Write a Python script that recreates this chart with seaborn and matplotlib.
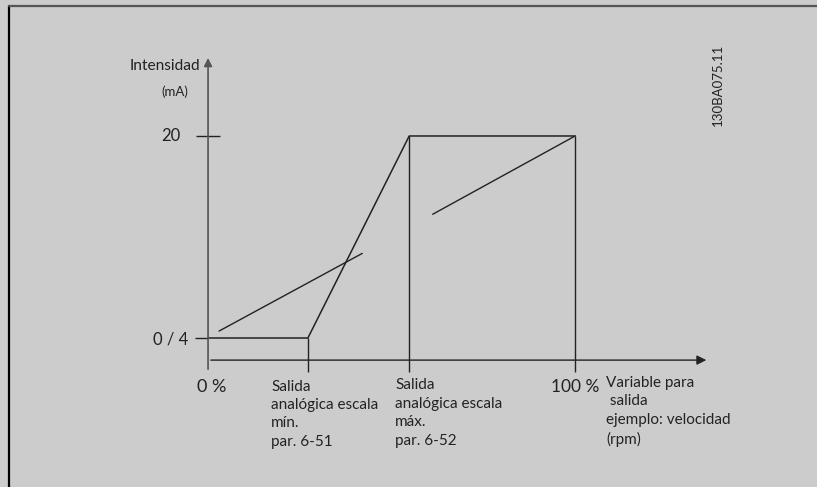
'''
Salida analógica: intensidad (mA) frente a variable de salida (%)
'''
# %% Imports
import pandas as pd
import seaborn as sns
import matplotlib.pyplot as plt

sns.set_theme(style="white")
plt.rcParams['font.family'] = ['Lato', 'DejaVu Sans']

# %% Data
# x in % of output variable, y in mA
pct_min = 27.2      # par. 6-51
pct_max = 54.8      # par. 6-52
out_x = [0, pct_min, pct_max, 100]
out_y = [4, 4, 20, 20]

# sloped reference lines of the variable
ref_low_x = [3.0, 42.0]
ref_low_y = [4.55, 10.7]
ref_high_x = [61.2, 100]
ref_high_y = [13.8, 20]

ytick_vals = [4, 20]
ytick_labels = ["0 / 4", "20"]
xtick_vals = [0, pct_min, pct_max, 100]
xtick_labels = [
    "0 %",
    "Salida\nanalógica escala\nmín.\npar. 6-51",
    "Salida\nanalógica escala\nmáx.\npar. 6-52",
    "100 %",
]
x_title = "Variable para\n salida\nejemplo: velocidad\n(rpm)"
y_title = "Intensidad"
y_unit = "(mA)"
fig_code = "130BA075.11"

df_out = pd.DataFrame({'pct': out_x, 'mA': out_y})
df_low = pd.DataFrame({'pct': ref_low_x, 'mA': ref_low_y})
df_high = pd.DataFrame({'pct': ref_high_x, 'mA': ref_high_y})

# %% Figure
bg = '#cccccc'
ink = '#222222'
fig = plt.figure(figsize=(8.17, 4.87), dpi=100, facecolor=bg)
ax = fig.add_axes([0, 0, 1, 1], facecolor=bg)
ax.set_xlim(-56.68, 165.9)
ax.set_ylim(-7.80, 30.77)
ax.axis('off')

# frame (left and top edges only visible)
ax.plot([0.0116, 0.0116], [0, 0.9867], color='black', lw=1.6, transform=ax.transAxes)
ax.plot([0.0116, 1], [0.9867, 0.9867], color='#555555', lw=1.6, transform=ax.transAxes)

# axes with arrows
y_axis_pos = 2.25
tick_bottom = 1.31
ax.annotate('', xy=(136.5, y_axis_pos), xytext=(0, y_axis_pos),
            arrowprops=dict(arrowstyle='-|>', color=ink, lw=1.0, mutation_scale=14))
ax.annotate('', xy=(0, 26.4), xytext=(0, tick_bottom),
            arrowprops=dict(arrowstyle='-|>', color='#555555', lw=1.2, mutation_scale=12))

# output curve
sns.lineplot(data=df_out, x='pct', y='mA', sort=False, color=ink, lw=1.1, ax=ax)
sns.lineplot(data=df_low, x='pct', y='mA', sort=False, color=ink, lw=1.0, ax=ax)
sns.lineplot(data=df_high, x='pct', y='mA', sort=False, color=ink, lw=1.0, ax=ax)

# verticals down through the x axis
ax.vlines(xtick_vals[1:], tick_bottom, [out_y[1], out_y[2], out_y[3]], color=ink, lw=1.0)

# y ticks
ax.hlines(ytick_vals, [-3.5, -3.3], [0, 3.3], color=ink, lw=1.0)

# y tick labels
ax.text(-5.45, ytick_vals[0] - 0.15, ytick_labels[0], ha='right', va='center', fontsize=12, color=ink)
ax.text(-7.6, ytick_vals[1], ytick_labels[1], ha='right', va='center', fontsize=12, color=ink)

# x tick labels
ax.text(1.1, 0.12, xtick_labels[0], ha='center', va='center', fontsize=13, color=ink)
ax.text(17.2, 0.7, xtick_labels[1], ha='left', va='top', fontsize=11, color=ink, linespacing=1.4)
ax.text(50.95, 0.8, xtick_labels[2], ha='left', va='top', fontsize=11, color=ink, linespacing=1.4)
ax.text(100, 0.12, xtick_labels[3], ha='center', va='center', fontsize=12.5, color=ink)

# axis titles
ax.text(108.4, 1.0, x_title, ha='left', va='top', fontsize=11, color=ink, linespacing=1.4)
ax.text(-2.0, 25.54, y_title, ha='right', va='center', fontsize=11.2, color=ink)
ax.text(-9.0, 23.49, y_unit, ha='center', va='center', fontsize=9.5, color=ink)

# drawing code
ax.text(139, 24.04, fig_code, ha='center', va='center', rotation=90, fontsize=9.5, color=ink)

fig.savefig('out.png', dpi=100, facecolor=bg)
